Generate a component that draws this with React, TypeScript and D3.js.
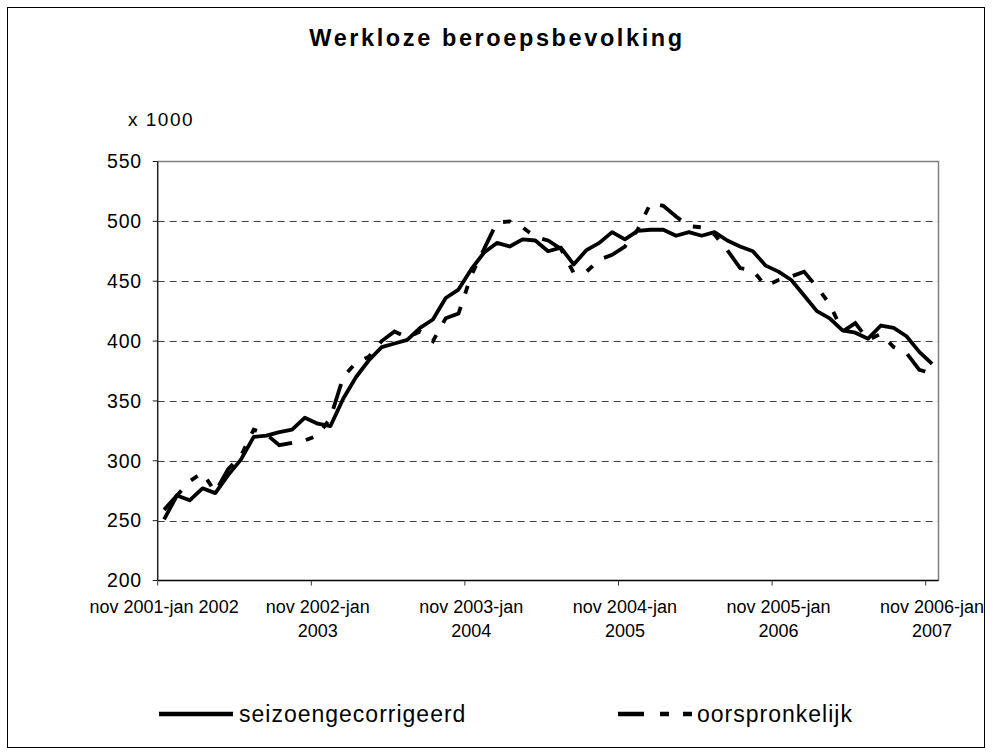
import React from "react";
import * as d3 from "d3";

// 3-month moving periods, nov 2001-jan 2002 .. nov 2006-jan 2007
const monthNames = ["jan", "feb", "mrt", "apr", "mei", "jun", "jul", "aug", "sep", "okt", "nov", "dec"];
const periods: string[] = d3.range(61).map((i) => {
  const s = 10 + i;
  const e = s + 2;
  return `${monthNames[s % 12]} ${2001 + Math.floor(s / 12)}-${monthNames[e % 12]} ${2001 + Math.floor(e / 12)}`;
});

const seasonal = [
  251, 271, 267, 277, 273, 288, 301, 320, 321, 324, 326, 336, 331, 329, 352, 370, 384, 395, 398, 401,
  411, 418, 436, 443, 460, 474, 482, 479, 485, 484, 475, 478, 464, 476, 482, 491, 485, 492, 493, 493,
  488, 491, 488, 491, 484, 479, 475, 463, 458, 451, 438, 425, 419, 409, 407, 402, 413, 411, 404, 391, 381,
];

const original = [
  259, 271, 283, 290, 274, 293, 304, 326, 322, 313, 315, 317, 321, 336, 370, 382, 387, 400, 408, 403,
  408, 400, 419, 423, 455, 477, 499, 500, 495, 487, 484, 477, 457, 458, 468, 472, 479, 493, 515, 513,
  504, 496, 495, 489, 476, 461, 459, 446, 451, 454, 458, 445, 431, 408, 415, 401, 406, 395, 390, 376, 373,
];

const yTicks = [200, 250, 300, 350, 400, 450, 500, 550];
const tickIndex = [0, 12, 24, 36, 48, 60];
const tickLabels = [
  ["nov 2001-jan 2002"],
  ["nov 2002-jan", "2003"],
  ["nov 2003-jan", "2004"],
  ["nov 2004-jan", "2005"],
  ["nov 2005-jan", "2006"],
  ["nov 2006-jan", "2007"],
];

const FONT = "'Liberation Sans', Arial, sans-serif";
const DASH_ORIG = "26,14,8,14,8,14";

const width = 993;
const height = 756;
const plot = { left: 157.7, right: 938.5, top: 161.5, bottom: 580.5 };

const x = d3
  .scaleBand<number>()
  .domain(d3.range(periods.length))
  .range([plot.left, plot.right])
  .padding(0);

const y = d3.scaleLinear().domain([200, 550]).range([plot.bottom, plot.top]);

const cx = (i: number) => (x(i) as number) + x.bandwidth() / 2;

const line = d3
  .line<number>()
  .x((d, i) => cx(i))
  .y((d) => y(d));

const legend = [
  { name: "seizoengecorrigeerd", x1: 159, x2: 233, tx: 239, dash: undefined },
  { name: "oorspronkelijk", x1: 618, x2: 692, tx: 697, dash: "26,16,9,14,9,14" },
];

const App = () => {
  return (
    <svg
      width={width}
      height={height}
      style={{ position: "absolute", left: 0, top: 0, background: "#fff" }}
      fontFamily={FONT}
    >
      <rect x={7.5} y={7.5} width={width - 16} height={height - 16} fill="#fff" stroke="#000" strokeWidth={1} />

      <text x={497} y={46} textAnchor="middle" fontWeight="bold" fontSize={23.5} style={{ letterSpacing: "2.6px" }}>
        Werkloze beroepsbevolking
      </text>
      <text x={128} y={126} fontSize={19} style={{ letterSpacing: "1.5px" }}>
        x 1000
      </text>

      {/* gridlines */}
      {yTicks
        .filter((d) => d > 200 && d < 550)
        .map((d) => (
          <line
            key={d}
            x1={plot.left}
            x2={plot.right}
            y1={Math.round(y(d)) + 0.5}
            y2={Math.round(y(d)) + 0.5}
            stroke="#404040"
            strokeDasharray="7,5"
            strokeWidth={1}
          />
        ))}

      {/* top and right border */}
      <path
        d={`M${plot.left},${plot.top}H${plot.right}V${plot.bottom}`}
        fill="none"
        stroke="#808080"
        strokeWidth={1.5}
      />

      {/* y axis */}
      <line x1={plot.left} x2={plot.left} y1={plot.top} y2={plot.bottom} stroke="#222" strokeWidth={1.5} />
      {yTicks.map((d) => (
        <g key={d} transform={`translate(0,${y(d)})`}>
          <line x1={plot.left - 5} x2={plot.left} stroke="#222" strokeWidth={1} />
          <text x={142} dy="0.35em" textAnchor="end" fontSize={19.5} style={{ letterSpacing: "0.8px" }}>
            {d}
          </text>
        </g>
      ))}

      {/* x axis */}
      <line x1={plot.left} x2={plot.right} y1={plot.bottom} y2={plot.bottom} stroke="#000" strokeWidth={1.5} />
      {tickIndex.map((d, i) => (
        <g key={d}>
          <line x1={x(d)} x2={x(d)} y1={plot.bottom} y2={plot.bottom + 5} stroke="#333" strokeWidth={1} />
          <text textAnchor="middle" fontSize={18}>
            {tickLabels[i].map((ln, k) => (
              <tspan key={k} x={cx(d)} y={613 + k * 24}>
                {ln}
              </tspan>
            ))}
          </text>
        </g>
      ))}

      {/* series */}
      <path d={line(original) || ""} fill="none" stroke="#000" strokeWidth={3.8} strokeDasharray={DASH_ORIG} />
      <path d={line(seasonal) || ""} fill="none" stroke="#000" strokeWidth={3.8} strokeLinejoin="round" />

      {/* legend */}
      {legend.map((l) => (
        <g key={l.name}>
          <line x1={l.x1} x2={l.x2} y1={714} y2={714} stroke="#000" strokeWidth={4.5} strokeDasharray={l.dash} />
          <text x={l.tx} y={722} fontSize={23} style={{ letterSpacing: "1px" }}>
            {l.name}
          </text>
        </g>
      ))}
    </svg>
  );
};

export default App;
